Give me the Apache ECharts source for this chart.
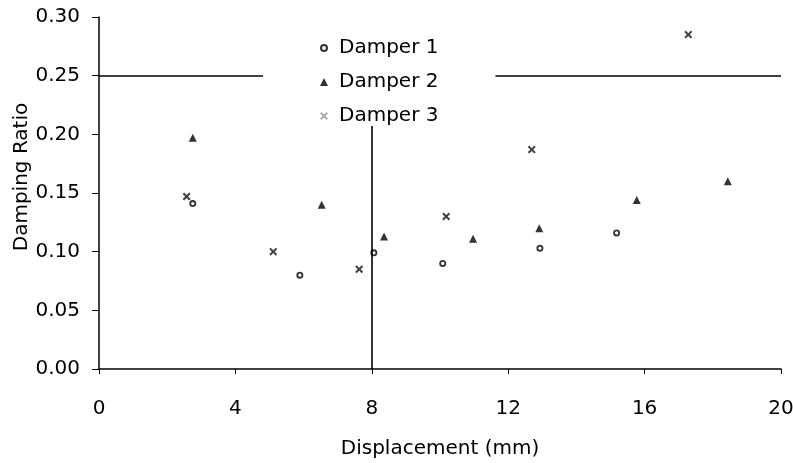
<!DOCTYPE html>
<html>
<head>
<meta charset="utf-8">
<script src="https://cdn.jsdelivr.net/npm/echarts@6/dist/echarts.min.js"></script>
<style>
  html, body { margin: 0; padding: 0; background: #fff; }
  #chart { width: 793px; height: 463px; }
</style>
</head>
<body>
<div id="chart"></div>
<script>
// Damping ratio measured at each displacement amplitude, per damper
const damper1X = [2.75, 5.89, 8.06, 10.08, 12.93, 15.18];
const damper1Y = [0.141, 0.080, 0.099, 0.090, 0.103, 0.116];

const damper2X = [2.75, 6.53, 8.36, 10.97, 12.91, 15.77, 18.44];
const damper2Y = [0.197, 0.140, 0.113, 0.111, 0.120, 0.144, 0.160];

const damper3X = [2.57, 5.11, 7.63, 10.18, 12.69, 17.28];
const damper3Y = [0.147, 0.100, 0.085, 0.130, 0.187, 0.285];

const seriesNames = ['Damper 1', 'Damper 2', 'Damper 3'];
const xTicks = [0, 4, 8, 12, 16, 20];
const yTicks = [0, 0.05, 0.10, 0.15, 0.20, 0.25, 0.30];

// Reference lines: design limit and displacement threshold
const limitRatio = 0.25;
const limitDisp = 8;

const pair = (xs, ys) => xs.map((x, i) => [x, ys[i]]);

const FONT = '"DejaVu Sans", sans-serif';
const crossPath = 'path://M0,1.8 L1.8,0 L5,3.2 L8.2,0 L10,1.8 L6.8,5 L10,8.2 L8.2,10 L5,6.8 L1.8,10 L0,8.2 L3.2,5 Z';
const ringPath = 'path://M5,0 A5,5 0 1,1 4.99,0 Z M5,2.6 A2.4,2.4 0 1,0 5.01,2.6 Z';

const chart = echarts.init(document.getElementById('chart'), null, { renderer: 'canvas' });

const axisText = { color: '#000', fontFamily: FONT, fontSize: 20 };

chart.setOption({
  animation: false,
  backgroundColor: '#fff',
  textStyle: { fontFamily: FONT },
  grid: { left: 99, right: 12, top: 17, bottom: 94, containLabel: false, outerBoundsMode: 'none' },
  legend: {
    orient: 'vertical',
    left: 263,
    top: 17,
    zlevel: 1,
    z: 20,
    padding: [21, 57, 0, 57],
    itemGap: 14,
    itemWidth: 8,
    itemHeight: 8,
    backgroundColor: '#fff',
    textStyle: { color: '#000', fontFamily: FONT, fontSize: 20, padding: [0, 0, 0, 6] },
    data: [
      { name: seriesNames[0] },
      { name: seriesNames[1] },
      { name: seriesNames[2], itemStyle: { opacity: 0.35 } }
    ]
  },
  xAxis: [{
    type: 'value',
    min: xTicks[0],
    max: xTicks[xTicks.length - 1],
    interval: 4,
    name: 'Displacement (mm)',
    nameLocation: 'middle',
    nameGap: 70,
    nameMoveOverlap: false,
    nameTextStyle: axisText,
    axisLine: { show: true, onZero: false, lineStyle: { color: '#000', width: 1.5 } },
    axisTick: { show: true, length: 5, lineStyle: { color: '#000' } },
    axisLabel: Object.assign({ margin: 30 }, axisText),
    splitLine: { show: false }
  }, {
    type: 'value',
    position: 'top',
    min: xTicks[0],
    max: xTicks[xTicks.length - 1],
    axisLine: { show: true, lineStyle: { color: '#444', width: 1, type: 'dotted' } },
    axisTick: { show: false },
    axisLabel: { show: false },
    splitLine: { show: false }
  }],
  yAxis: [{
    type: 'value',
    min: yTicks[0],
    max: yTicks[yTicks.length - 1],
    interval: 0.05,
    name: 'Damping Ratio',
    nameLocation: 'middle',
    nameGap: 67,
    nameMoveOverlap: false,
    nameTextStyle: Object.assign({ padding: [0, 0, 0, 32] }, axisText),
    axisLine: { show: true, onZero: false, lineStyle: { color: '#000', width: 1.5 } },
    axisTick: { show: true, length: 7, lineStyle: { color: '#000' } },
    axisLabel: Object.assign({ margin: 19, formatter: v => v.toFixed(2) }, axisText),
    splitLine: { show: false }
  }, {
    type: 'value',
    position: 'right',
    min: yTicks[0],
    max: yTicks[yTicks.length - 1],
    axisLine: { show: true, lineStyle: { color: '#444', width: 1, type: 'dotted' } },
    axisTick: { show: false },
    axisLabel: { show: false },
    splitLine: { show: false }
  }],
  series: [{
    name: seriesNames[0],
    type: 'scatter',
    symbol: ringPath,
    symbolSize: 7,
    itemStyle: { color: '#000' },
    data: pair(damper1X, damper1Y),
    markLine: {
      silent: true,
      symbol: 'none',
      label: { show: false },
      lineStyle: { color: '#000', width: 1.6, type: 'solid' },
      data: [
        { yAxis: limitRatio },
        { xAxis: limitDisp }
      ]
    }
  }, {
    name: seriesNames[1],
    type: 'scatter',
    symbol: 'triangle',
    symbolSize: 8,
    itemStyle: { color: '#000' },
    data: pair(damper2X, damper2Y)
  }, {
    name: seriesNames[2],
    type: 'scatter',
    symbol: crossPath,
    symbolSize: 8,
    itemStyle: { color: '#111' },
    data: pair(damper3X, damper3Y)
  }]
});
</script>
</body>
</html>
